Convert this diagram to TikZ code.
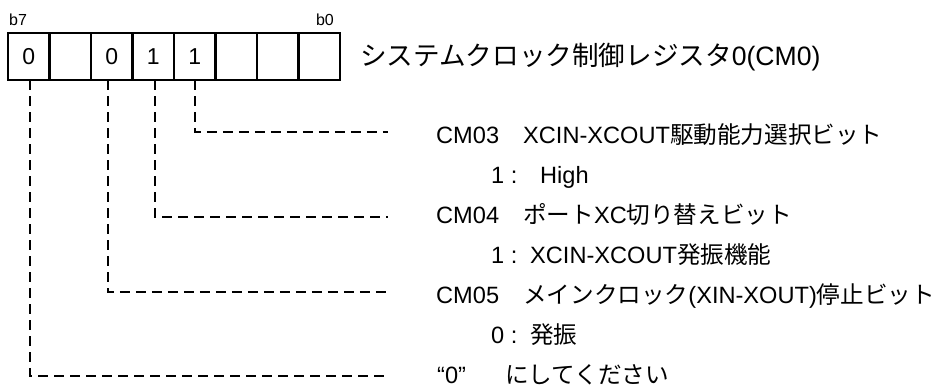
\documentclass[tikz,border=0pt]{standalone}
\usepackage{fontspec}
\setmainfont{Liberation Sans}
\newfontfamily\jpfont{Noto Sans CJK JP}
\newcommand\bodyfnt{\fontsize{23.6}{28}\selectfont}
\newcommand\cellfnt{\fontsize{23}{27}\selectfont}
\newcommand\bitfnt{\fontsize{16}{18}\selectfont}
\newcommand\titlefnt{\fontsize{26.6}{31}\selectfont}
\newcommand\jb[1]{{\jpfont #1}}
\begin{document}
\begin{tikzpicture}[x=1pt,y=-1pt,
  cell/.style={draw, line width=2.3pt, minimum width=41.5pt, minimum height=47pt,
    inner sep=0pt, outer sep=0pt, font=\cellfnt},
  lead/.style={line width=2pt, dash pattern=on 10pt off 6pt},
  body/.style={anchor=base west, inner sep=0pt, font=\bodyfnt},
  bitlbl/.style={inner sep=0pt, font=\bitfnt},
]
\useasboundingbox (0,0) rectangle (941,388);
% register cells
\node[cell] (c7) at (28.75,56.5) {0};
\node[cell] (c6) at (70.25,56.5) {};
\node[cell] (c5) at (111.75,56.5) {0};
\node[cell] (c4) at (153.25,56.5) {1};
\node[cell] (c3) at (194.75,56.5) {1};
\node[cell] (c2) at (236.25,56.5) {};
\node[cell] (c1) at (277.75,56.5) {};
\node[cell] (c0) at (319.25,56.5) {};
\node[bitlbl, anchor=base west] (lb7) at (9,25) {b7};
\node[bitlbl, anchor=base east] (lb0) at (334,25) {b0};
% title
\node[anchor=base west, inner sep=0pt, font=\titlefnt] (title) at (360,65)
  {\jb{システムクロック制御レジスタ}0(CM0)};
% descriptions
\node[body] (cm03) at (436,143) {CM03};
\node[body] (d03) at (523,143) {XCIN-XCOUT\jb{駆動能力選択ビット}};
\node[body] (v03) at (491,183) {1 :};
\node[body] (t03) at (540,183) {High};
\node[body] (cm04) at (436,223) {CM04};
\node[body] (d04) at (523,223) {\jb{ポート}XC\jb{切り替えビット}};
\node[body] (v04) at (491,263) {1 :};
\node[body] (t04) at (530,263) {XCIN-XCOUT\jb{発振機能}};
\node[body] (cm05) at (436,303) {CM05};
\node[body] (d05) at (523,303) {\jb{メインクロック}(XIN-XOUT)\jb{停止ビット}};
\node[body] (v05) at (491,343) {0 :};
\node[body] (t05) at (530,343) {\jb{発振}};
\node[body] (q7) at (437,383) {“0”};
\node[body] (d7) at (505,383) {\jb{にしてください}};
% leader lines
\coordinate (e3) at (388,132);
\coordinate (e4) at (388,217);
\coordinate (e5) at (388,292);
\coordinate (e7) at (388,376);
\draw[lead] (c3.south) |- (e3);
\draw[lead] ([xshift=2pt]c4.south) |- (e4);
\draw[lead] ([xshift=-4pt]c5.south) |- (e5);
\draw[lead] ([xshift=1.5pt]c7.south) |- (e7);
\end{tikzpicture}
\end{document}
